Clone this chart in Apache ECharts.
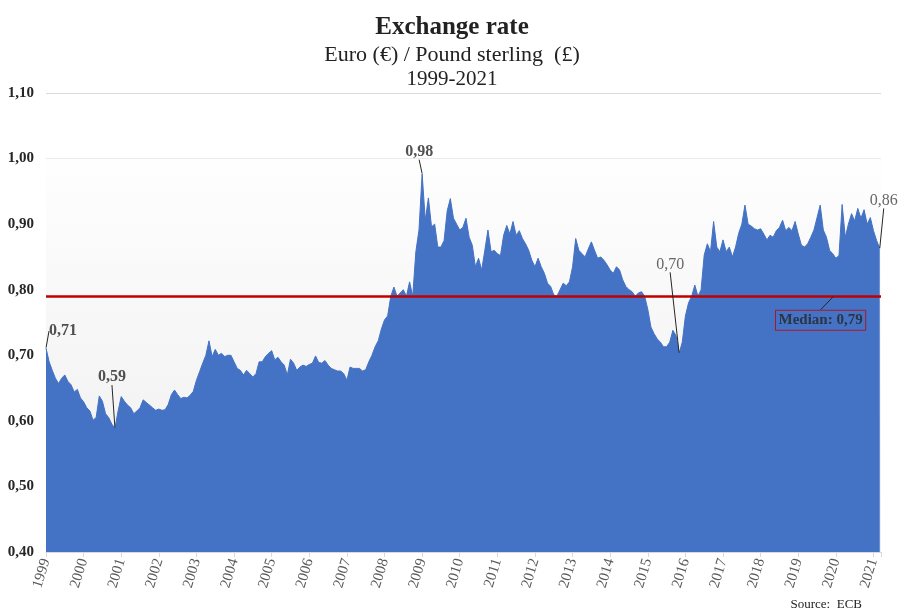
<!DOCTYPE html>
<html>
<head>
<meta charset="utf-8">
<script src="https://cdn.jsdelivr.net/npm/echarts@6/dist/echarts.min.js"></script>
<style>html,body{margin:0;padding:0;background:#fff}#c{width:904px;height:616px}</style>
</head>
<body>
<div id="c"></div>
<script>
// Monthly EUR/GBP values, Jan 1999 .. Mar 2021
const startYear = 1999;
const rates1999_2004 = [
  0.711,0.690,0.677,0.665,0.657,0.665,0.670,0.660,0.655,0.644,0.648,0.635,
  0.629,0.620,0.615,0.601,0.605,0.638,0.630,0.611,0.605,0.595,0.589,0.615,
  0.637,0.630,0.624,0.620,0.611,0.615,0.620,0.632,0.628,0.624,0.620,0.616,
  0.618,0.616,0.617,0.625,0.640,0.647,0.640,0.634,0.636,0.635,0.639,0.645,
  0.662,0.675,0.688,0.700,0.722,0.698,0.709,0.700,0.703,0.698,0.700,0.700,
  0.690,0.680,0.677,0.670,0.677,0.672,0.667,0.672,0.690,0.690,0.698,0.703
];
const rates2005_2010 = [
  0.707,0.693,0.697,0.690,0.685,0.670,0.694,0.688,0.677,0.682,0.685,0.683,
  0.686,0.688,0.699,0.689,0.688,0.692,0.685,0.680,0.678,0.676,0.676,0.672,
  0.662,0.682,0.680,0.680,0.680,0.676,0.678,0.690,0.700,0.713,0.722,0.740,
  0.754,0.760,0.790,0.804,0.790,0.795,0.800,0.790,0.812,0.790,0.858,0.891,
  0.977,0.906,0.940,0.896,0.900,0.865,0.865,0.875,0.920,0.939,0.909,0.900,
  0.891,0.895,0.909,0.880,0.868,0.835,0.848,0.830,0.860,0.891,0.858,0.860
];
const rates2011_2016 = [
  0.855,0.852,0.883,0.898,0.885,0.904,0.883,0.890,0.878,0.870,0.860,0.845,
  0.835,0.848,0.835,0.825,0.810,0.805,0.792,0.790,0.800,0.810,0.806,0.812,
  0.835,0.878,0.860,0.855,0.850,0.862,0.873,0.860,0.848,0.850,0.845,0.838,
  0.830,0.825,0.835,0.830,0.815,0.805,0.800,0.797,0.790,0.795,0.797,0.790,
  0.770,0.743,0.733,0.725,0.720,0.713,0.713,0.720,0.738,0.730,0.703,0.720,
  0.760,0.780,0.790,0.807,0.790,0.800,0.853,0.870,0.858,0.904,0.865,0.858
];
const rates2017_2021 = [
  0.876,0.858,0.865,0.850,0.865,0.886,0.900,0.929,0.900,0.897,0.893,0.891,
  0.893,0.885,0.876,0.883,0.880,0.890,0.895,0.906,0.890,0.895,0.890,0.904,
  0.885,0.868,0.865,0.870,0.880,0.891,0.910,0.929,0.891,0.880,0.860,0.855,
  0.848,0.852,0.930,0.880,0.900,0.916,0.905,0.924,0.909,0.922,0.900,0.910,
  0.890,0.875,0.863
];
const rates = rates1999_2004.concat(rates2005_2010, rates2011_2016, rates2017_2021);
const median = 0.79;
const yTicks = [0.40,0.50,0.60,0.70,0.80,0.90,1.00,1.10];
const yearLabels = ['1999','2000','2001','2002','2003','2004','2005','2006','2007','2008','2009','2010','2011','2012','2013','2014','2015','2016','2017','2018','2019','2020','2021'];
// annotated points: month index into rates
const annotIdx = [0, 22, 120, 202, 266];
const annotBold = [true, true, true, false, false];
const annotShift = [[17,-17],[-3,-51],[-3,-22],[-9,-89],[4,-48]];
const medianLabelYear = 2019.94;

const fmt = v => v.toFixed(2).replace('.', ',');
const serif = '"Liberation Serif", "DejaVu Serif", serif';
const seriesData = rates.map((v, i) => [startYear + i / 12, v]);
const annotData = annotIdx.map(i => [startYear + i / 12, rates[i]]);

const chart = echarts.init(document.getElementById('c'));
chart.setOption({
  animation: false,
  backgroundColor: '#ffffff',
  title: [
    {text: 'Exchange rate', left: 'center', top: 10, textStyle: {fontFamily: serif, fontWeight: 'bold', fontSize: 25, color: '#222'}},
    {text: 'Euro (€) / Pound sterling  (£)', left: 'center', top: 39, textStyle: {fontFamily: serif, fontWeight: 'normal', fontSize: 22, color: '#222'}},
    {text: '1999-2021', left: 'center', top: 64, textStyle: {fontFamily: serif, fontWeight: 'normal', fontSize: 21, color: '#222'}},
    {text: 'Source:  ECB', right: 37, bottom: 0, textStyle: {fontFamily: serif, fontWeight: 'normal', fontSize: 13, color: '#222'}}
  ],
  grid: {left: 46, right: 23, top: 93, bottom: 64, containLabel: false},
  xAxis: {
    type: 'value', min: 1999, max: 2021.2, interval: 1,
    axisLine: {show: true, lineStyle: {color: '#d9d9d9', width: 1}},
    axisTick: {show: true, lineStyle: {color: '#d9d9d9'}, length: 5},
    splitLine: {show: false},
    axisLabel: {
      rotate: 73, margin: 7, fontFamily: serif, fontSize: 15, color: '#595959',
      formatter: v => { const y = Math.round(v); return Math.abs(v - y) < 1e-6 && yearLabels.indexOf(String(y)) >= 0 ? String(y) : ''; }
    }
  },
  yAxis: {
    type: 'value', min: yTicks[0], max: yTicks[yTicks.length - 1], interval: 0.1,
    axisLine: {show: false}, axisTick: {show: false},
    splitLine: {show: true, lineStyle: {color: '#d9d9d9', width: 1}},
    axisLabel: {margin: 12, fontFamily: serif, fontSize: 15, fontWeight: 'bold', color: '#262626', formatter: v => fmt(v)}
  },
  series: [
    {
      type: 'line', data: [], z: 0, silent: true,
      markArea: {
        silent: true,
        itemStyle: {color: new echarts.graphic.LinearGradient(0, 0, 0, 1, [{offset: 0, color: '#fefefe'}, {offset: 1, color: '#eeeeee'}])},
        data: [[{yAxis: 0.4}, {yAxis: 1.0}]]
      }
    },
    {
      type: 'line', data: seriesData, z: 2, showSymbol: false, symbol: 'none', silent: true,
      lineStyle: {color: '#4472c4', width: 1},
      areaStyle: {color: '#4472c4', opacity: 1},
      markLine: {
        silent: true, symbol: 'none', label: {show: false},
        lineStyle: {color: '#c00000', width: 2.5, type: 'solid'},
        data: [{yAxis: median}]
      }
    },
    {
      type: 'scatter', z: 5, silent: true, symbolSize: 1,
      itemStyle: {color: 'rgba(0,0,0,0)'},
      data: annotData.map((d, i) => ({
        value: d,
        label: {fontWeight: annotBold[i] ? 'bold' : 'normal', color: annotBold[i] ? '#262626' : '#404040'}
      })),
      label: {show: true, position: 'inside', fontFamily: serif, fontSize: 16, formatter: p => fmt(p.value[1])},
      labelLine: {show: true, lineStyle: {color: '#262626', width: 1}},
      labelLayout: p => ({dx: annotShift[p.dataIndex][0], dy: annotShift[p.dataIndex][1]})
    },
    {
      type: 'scatter', z: 6, silent: true, symbolSize: 1,
      itemStyle: {color: 'rgba(0,0,0,0)'},
      data: [[medianLabelYear, median]],
      label: {
        show: true, position: 'inside', fontFamily: serif, fontSize: 15, fontWeight: 'bold', color: '#262626',
        borderColor: '#c00000', borderWidth: 1, padding: [3, 3, 2, 3],
        formatter: 'Median: ' + fmt(median)
      },
      labelLine: {show: true, lineStyle: {color: '#262626', width: 1}},
      labelLayout: {dx: -13, dy: 24}
    }
  ]
});
</script>
</body>
</html>
